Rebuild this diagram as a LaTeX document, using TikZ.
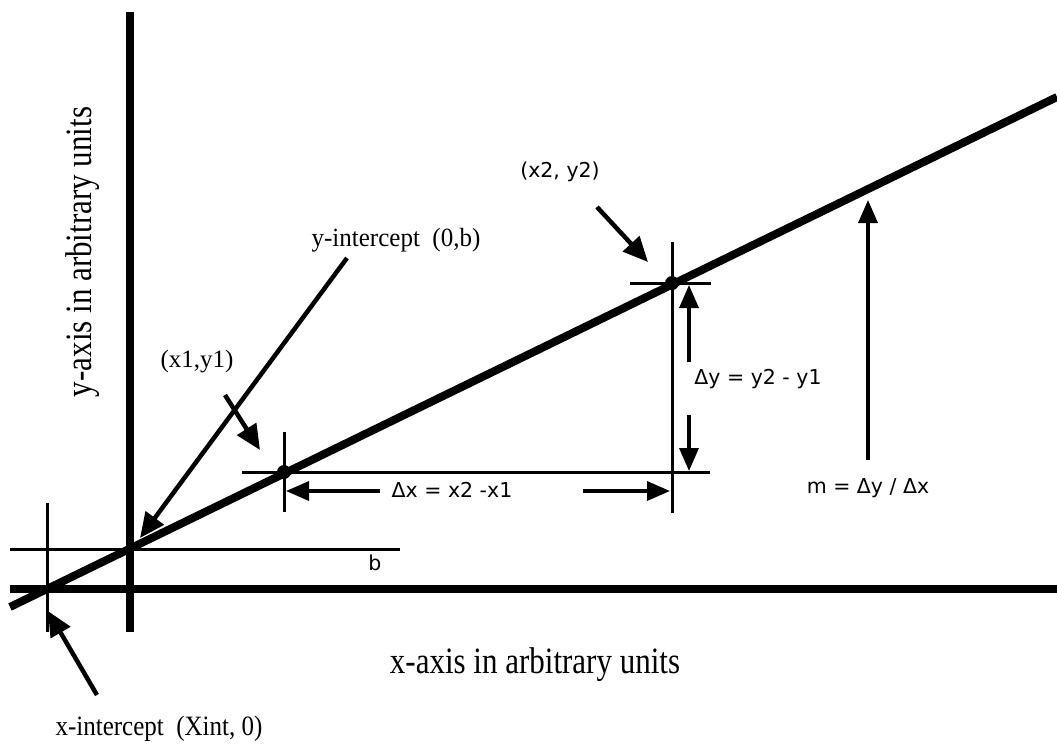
\documentclass[tikz,border=0pt]{standalone}
\usepackage{graphicx}
\usepackage{fontspec}
\setmainfont{Liberation Serif}
\newfontfamily\optfont{DejaVu Sans}
\usetikzlibrary{arrows.meta}
\newcommand{\vstretch}[2]{\scalebox{1}[#1]{#2}}
\begin{document}
\begin{tikzpicture}[x=1pt,y=-1pt,
  mainline/.style={line width=8pt},
  axisline/.style={line width=8.5pt},
  thinline/.style={line width=3pt},
  ptr/.style={line width=4.5pt,-{Triangle[length=25pt,width=22pt]}},
  dimptr/.style={line width=3.5pt,-{Triangle[length=23pt,width=19pt]}},
  seriflbl/.style={inner sep=0pt,font=\fontsize{25}{30}\selectfont},
  axislbl/.style={inner sep=0pt,font=\fontsize{31}{36}\selectfont},
  sanslbl/.style={inner sep=0pt,font=\optfont\fontsize{20.5}{24}\selectfont},
  dotnode/.style={circle,fill=black,inner sep=0pt,minimum size=14pt}
]
\useasboundingbox[fill=white] (0,0) rectangle (1057,744);

% axes and main line
\coordinate (Y0) at (130,12);  \coordinate (Y1) at (130,632);
\coordinate (X0) at (10,589);  \coordinate (X1) at (1057,589);
\coordinate (L0) at (10,607);  \coordinate (L1) at (1057,97);
\draw[axisline] (Y0) -- (Y1);
\draw[axisline] (X0) -- (X1);

% thin construction lines
\coordinate (xi0) at (47,503);  \coordinate (xi1) at (47,632);
\coordinate (b0) at (10,549);   \coordinate (b1) at (400,549);
\coordinate (p1v0) at (284,432); \coordinate (p1v1) at (284,512);
\coordinate (p1h0) at (242,472); \coordinate (p1h1) at (710,472);
\coordinate (p2v0) at (672,242); \coordinate (p2v1) at (672,513);
\coordinate (p2h0) at (630,283); \coordinate (p2h1) at (711,283);
\draw[thinline] (xi0) -- (xi1);
\draw[thinline] (b0) -- (b1);
\draw[thinline] (p1v0) -- (p1v1);
\draw[thinline] (p1h0) -- (p1h1);
\draw[thinline] (p2v0) -- (p2v1);
\draw[thinline] (p2h0) -- (p2h1);

\draw[mainline] (L0) -- (L1);

% points
\node[dotnode] (P1) at (284,472) {};
\node[dotnode] (P2) at (672,283) {};

% labels
\node[sanslbl] (lx2) at (560,172) {(x2, y2)};
\node[seriflbl] (lx1) at (197,362) {(x1,y1)};
\node[seriflbl] (lyi) at (396,240) {\vstretch{1.05}{y-intercept\ \ (0,b)}};
\node[seriflbl] (lxi) at (159,729) {\vstretch{1.12}{x-intercept\ \ (Xint, 0)}};
\node[axislbl] (lxa) at (535,665) {\vstretch{1.2}{x-axis in arbitrary units}};
\node[axislbl,rotate=90] (lya) at (83,252) {\vstretch{1.2}{y-axis in arbitrary units}};
\node[sanslbl] (ldx) at (452,490) {Δx = x2 -x1};
\node[sanslbl] (ldy) at (758,379) {Δy = y2 - y1};
\node[sanslbl] (lm) at (868,488) {m = Δy / Δx};
\node[sanslbl] (lb) at (375,563) {b};

% pointer arrows
\coordinate (ax2t) at (597,207); \coordinate (ax2h) at (648,262);
\coordinate (ax1t) at (225,395); \coordinate (ax1h) at (260,450);
\coordinate (ayit) at (347,258); \coordinate (ayih) at (140,538);
\coordinate (axit) at (97,695);  \coordinate (axih) at (48,611);
\draw[ptr] (ax2t) -- (ax2h);
\draw[ptr] (ax1t) -- (ax1h);
\draw[ptr] (ayit) -- (ayih);
\draw[ptr] (axit) -- (axih);

% dimension arrows
\coordinate (dxLt) at (380,491); \coordinate (dxLh) at (286,491);
\coordinate (dxRt) at (583,491); \coordinate (dxRh) at (670,491);
\coordinate (dyUt) at (689,362); \coordinate (dyUh) at (689,285);
\coordinate (dyDt) at (689,415); \coordinate (dyDh) at (689,471);
\coordinate (mt) at (868,460);   \coordinate (mh) at (868,200);
\draw[dimptr] (dxLt) -- (dxLh);
\draw[dimptr] (dxRt) -- (dxRh);
\draw[dimptr] (dyUt) -- (dyUh);
\draw[dimptr] (dyDt) -- (dyDh);
\draw[dimptr] (mt) -- (mh);
\end{tikzpicture}
\end{document}
